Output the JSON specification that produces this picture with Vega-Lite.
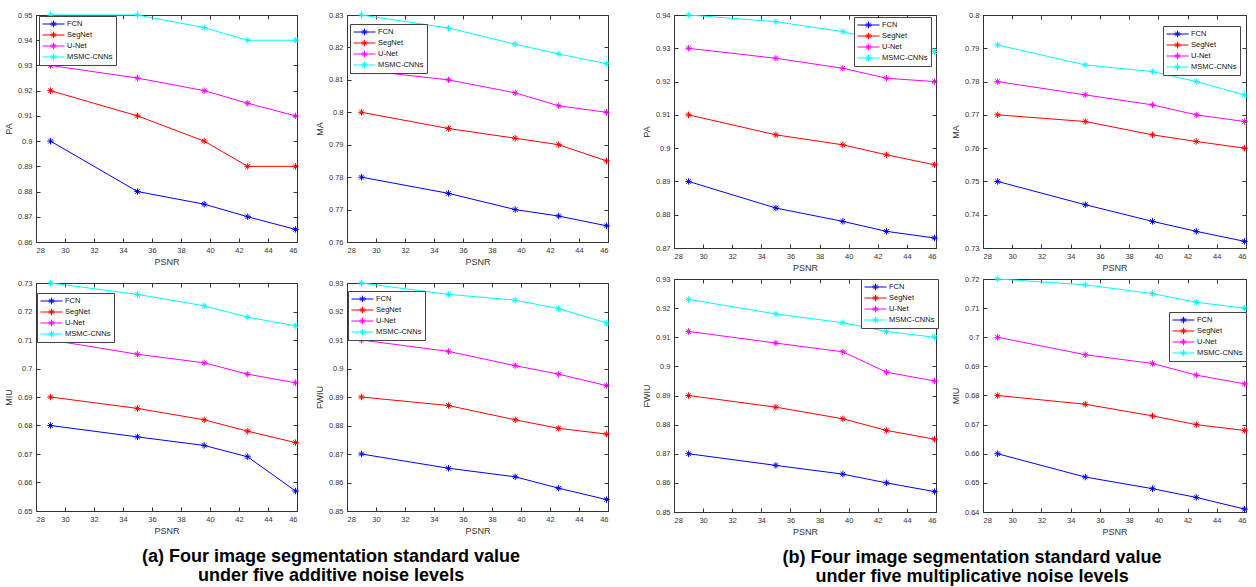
{
"$schema": "https://vega.github.io/schema/vega-lite/v6.json",
"padding": {"left": 3, "top": 9, "right": 4, "bottom": 0},
"datasets": {"d": [
{"noise":"a","metric":"PA","method":"FCN","psnr":29,"value":0.90},{"noise":"a","metric":"PA","method":"FCN","psnr":35,"value":0.88},{"noise":"a","metric":"PA","method":"FCN","psnr":39.6,"value":0.875},{"noise":"a","metric":"PA","method":"FCN","psnr":42.6,"value":0.87},{"noise":"a","metric":"PA","method":"FCN","psnr":45.9,"value":0.865},
{"noise":"a","metric":"PA","method":"SegNet","psnr":29,"value":0.92},{"noise":"a","metric":"PA","method":"SegNet","psnr":35,"value":0.91},{"noise":"a","metric":"PA","method":"SegNet","psnr":39.6,"value":0.90},{"noise":"a","metric":"PA","method":"SegNet","psnr":42.6,"value":0.89},{"noise":"a","metric":"PA","method":"SegNet","psnr":45.9,"value":0.89},
{"noise":"a","metric":"PA","method":"U-Net","psnr":29,"value":0.93},{"noise":"a","metric":"PA","method":"U-Net","psnr":35,"value":0.925},{"noise":"a","metric":"PA","method":"U-Net","psnr":39.6,"value":0.92},{"noise":"a","metric":"PA","method":"U-Net","psnr":42.6,"value":0.915},{"noise":"a","metric":"PA","method":"U-Net","psnr":45.9,"value":0.91},
{"noise":"a","metric":"PA","method":"MSMC-CNNs","psnr":29,"value":0.95},{"noise":"a","metric":"PA","method":"MSMC-CNNs","psnr":35,"value":0.95},{"noise":"a","metric":"PA","method":"MSMC-CNNs","psnr":39.6,"value":0.945},{"noise":"a","metric":"PA","method":"MSMC-CNNs","psnr":42.6,"value":0.94},{"noise":"a","metric":"PA","method":"MSMC-CNNs","psnr":45.9,"value":0.94},
{"noise":"a","metric":"MA","method":"FCN","psnr":29,"value":0.78},{"noise":"a","metric":"MA","method":"FCN","psnr":35,"value":0.775},{"noise":"a","metric":"MA","method":"FCN","psnr":39.6,"value":0.77},{"noise":"a","metric":"MA","method":"FCN","psnr":42.6,"value":0.768},{"noise":"a","metric":"MA","method":"FCN","psnr":45.9,"value":0.765},
{"noise":"a","metric":"MA","method":"SegNet","psnr":29,"value":0.80},{"noise":"a","metric":"MA","method":"SegNet","psnr":35,"value":0.795},{"noise":"a","metric":"MA","method":"SegNet","psnr":39.6,"value":0.792},{"noise":"a","metric":"MA","method":"SegNet","psnr":42.6,"value":0.79},{"noise":"a","metric":"MA","method":"SegNet","psnr":45.9,"value":0.785},
{"noise":"a","metric":"MA","method":"U-Net","psnr":29,"value":0.813},{"noise":"a","metric":"MA","method":"U-Net","psnr":35,"value":0.81},{"noise":"a","metric":"MA","method":"U-Net","psnr":39.6,"value":0.806},{"noise":"a","metric":"MA","method":"U-Net","psnr":42.6,"value":0.802},{"noise":"a","metric":"MA","method":"U-Net","psnr":45.9,"value":0.80},
{"noise":"a","metric":"MA","method":"MSMC-CNNs","psnr":29,"value":0.83},{"noise":"a","metric":"MA","method":"MSMC-CNNs","psnr":35,"value":0.826},{"noise":"a","metric":"MA","method":"MSMC-CNNs","psnr":39.6,"value":0.821},{"noise":"a","metric":"MA","method":"MSMC-CNNs","psnr":42.6,"value":0.818},{"noise":"a","metric":"MA","method":"MSMC-CNNs","psnr":45.9,"value":0.815},
{"noise":"a","metric":"MIU","method":"FCN","psnr":29,"value":0.68},{"noise":"a","metric":"MIU","method":"FCN","psnr":35,"value":0.676},{"noise":"a","metric":"MIU","method":"FCN","psnr":39.6,"value":0.673},{"noise":"a","metric":"MIU","method":"FCN","psnr":42.6,"value":0.669},{"noise":"a","metric":"MIU","method":"FCN","psnr":45.9,"value":0.657},
{"noise":"a","metric":"MIU","method":"SegNet","psnr":29,"value":0.69},{"noise":"a","metric":"MIU","method":"SegNet","psnr":35,"value":0.686},{"noise":"a","metric":"MIU","method":"SegNet","psnr":39.6,"value":0.682},{"noise":"a","metric":"MIU","method":"SegNet","psnr":42.6,"value":0.678},{"noise":"a","metric":"MIU","method":"SegNet","psnr":45.9,"value":0.674},
{"noise":"a","metric":"MIU","method":"U-Net","psnr":29,"value":0.71},{"noise":"a","metric":"MIU","method":"U-Net","psnr":35,"value":0.705},{"noise":"a","metric":"MIU","method":"U-Net","psnr":39.6,"value":0.702},{"noise":"a","metric":"MIU","method":"U-Net","psnr":42.6,"value":0.698},{"noise":"a","metric":"MIU","method":"U-Net","psnr":45.9,"value":0.695},
{"noise":"a","metric":"MIU","method":"MSMC-CNNs","psnr":29,"value":0.73},{"noise":"a","metric":"MIU","method":"MSMC-CNNs","psnr":35,"value":0.726},{"noise":"a","metric":"MIU","method":"MSMC-CNNs","psnr":39.6,"value":0.722},{"noise":"a","metric":"MIU","method":"MSMC-CNNs","psnr":42.6,"value":0.718},{"noise":"a","metric":"MIU","method":"MSMC-CNNs","psnr":45.9,"value":0.715},
{"noise":"a","metric":"FWIU","method":"FCN","psnr":29,"value":0.87},{"noise":"a","metric":"FWIU","method":"FCN","psnr":35,"value":0.865},{"noise":"a","metric":"FWIU","method":"FCN","psnr":39.6,"value":0.862},{"noise":"a","metric":"FWIU","method":"FCN","psnr":42.6,"value":0.858},{"noise":"a","metric":"FWIU","method":"FCN","psnr":45.9,"value":0.854},
{"noise":"a","metric":"FWIU","method":"SegNet","psnr":29,"value":0.89},{"noise":"a","metric":"FWIU","method":"SegNet","psnr":35,"value":0.887},{"noise":"a","metric":"FWIU","method":"SegNet","psnr":39.6,"value":0.882},{"noise":"a","metric":"FWIU","method":"SegNet","psnr":42.6,"value":0.879},{"noise":"a","metric":"FWIU","method":"SegNet","psnr":45.9,"value":0.877},
{"noise":"a","metric":"FWIU","method":"U-Net","psnr":29,"value":0.91},{"noise":"a","metric":"FWIU","method":"U-Net","psnr":35,"value":0.906},{"noise":"a","metric":"FWIU","method":"U-Net","psnr":39.6,"value":0.901},{"noise":"a","metric":"FWIU","method":"U-Net","psnr":42.6,"value":0.898},{"noise":"a","metric":"FWIU","method":"U-Net","psnr":45.9,"value":0.894},
{"noise":"a","metric":"FWIU","method":"MSMC-CNNs","psnr":29,"value":0.93},{"noise":"a","metric":"FWIU","method":"MSMC-CNNs","psnr":35,"value":0.926},{"noise":"a","metric":"FWIU","method":"MSMC-CNNs","psnr":39.6,"value":0.924},{"noise":"a","metric":"FWIU","method":"MSMC-CNNs","psnr":42.6,"value":0.921},{"noise":"a","metric":"FWIU","method":"MSMC-CNNs","psnr":45.9,"value":0.916},
{"noise":"m","metric":"PA","method":"FCN","psnr":29,"value":0.89},{"noise":"m","metric":"PA","method":"FCN","psnr":35,"value":0.882},{"noise":"m","metric":"PA","method":"FCN","psnr":39.6,"value":0.878},{"noise":"m","metric":"PA","method":"FCN","psnr":42.6,"value":0.875},{"noise":"m","metric":"PA","method":"FCN","psnr":45.9,"value":0.873},
{"noise":"m","metric":"PA","method":"SegNet","psnr":29,"value":0.91},{"noise":"m","metric":"PA","method":"SegNet","psnr":35,"value":0.904},{"noise":"m","metric":"PA","method":"SegNet","psnr":39.6,"value":0.901},{"noise":"m","metric":"PA","method":"SegNet","psnr":42.6,"value":0.898},{"noise":"m","metric":"PA","method":"SegNet","psnr":45.9,"value":0.895},
{"noise":"m","metric":"PA","method":"U-Net","psnr":29,"value":0.93},{"noise":"m","metric":"PA","method":"U-Net","psnr":35,"value":0.927},{"noise":"m","metric":"PA","method":"U-Net","psnr":39.6,"value":0.924},{"noise":"m","metric":"PA","method":"U-Net","psnr":42.6,"value":0.921},{"noise":"m","metric":"PA","method":"U-Net","psnr":45.9,"value":0.92},
{"noise":"m","metric":"PA","method":"MSMC-CNNs","psnr":29,"value":0.94},{"noise":"m","metric":"PA","method":"MSMC-CNNs","psnr":35,"value":0.938},{"noise":"m","metric":"PA","method":"MSMC-CNNs","psnr":39.6,"value":0.935},{"noise":"m","metric":"PA","method":"MSMC-CNNs","psnr":42.6,"value":0.932},{"noise":"m","metric":"PA","method":"MSMC-CNNs","psnr":45.9,"value":0.929},
{"noise":"m","metric":"MA","method":"FCN","psnr":29,"value":0.75},{"noise":"m","metric":"MA","method":"FCN","psnr":35,"value":0.743},{"noise":"m","metric":"MA","method":"FCN","psnr":39.6,"value":0.738},{"noise":"m","metric":"MA","method":"FCN","psnr":42.6,"value":0.735},{"noise":"m","metric":"MA","method":"FCN","psnr":45.9,"value":0.732},
{"noise":"m","metric":"MA","method":"SegNet","psnr":29,"value":0.77},{"noise":"m","metric":"MA","method":"SegNet","psnr":35,"value":0.768},{"noise":"m","metric":"MA","method":"SegNet","psnr":39.6,"value":0.764},{"noise":"m","metric":"MA","method":"SegNet","psnr":42.6,"value":0.762},{"noise":"m","metric":"MA","method":"SegNet","psnr":45.9,"value":0.76},
{"noise":"m","metric":"MA","method":"U-Net","psnr":29,"value":0.78},{"noise":"m","metric":"MA","method":"U-Net","psnr":35,"value":0.776},{"noise":"m","metric":"MA","method":"U-Net","psnr":39.6,"value":0.773},{"noise":"m","metric":"MA","method":"U-Net","psnr":42.6,"value":0.77},{"noise":"m","metric":"MA","method":"U-Net","psnr":45.9,"value":0.768},
{"noise":"m","metric":"MA","method":"MSMC-CNNs","psnr":29,"value":0.791},{"noise":"m","metric":"MA","method":"MSMC-CNNs","psnr":35,"value":0.785},{"noise":"m","metric":"MA","method":"MSMC-CNNs","psnr":39.6,"value":0.783},{"noise":"m","metric":"MA","method":"MSMC-CNNs","psnr":42.6,"value":0.78},{"noise":"m","metric":"MA","method":"MSMC-CNNs","psnr":45.9,"value":0.776},
{"noise":"m","metric":"FWIU","method":"FCN","psnr":29,"value":0.87},{"noise":"m","metric":"FWIU","method":"FCN","psnr":35,"value":0.866},{"noise":"m","metric":"FWIU","method":"FCN","psnr":39.6,"value":0.863},{"noise":"m","metric":"FWIU","method":"FCN","psnr":42.6,"value":0.86},{"noise":"m","metric":"FWIU","method":"FCN","psnr":45.9,"value":0.857},
{"noise":"m","metric":"FWIU","method":"SegNet","psnr":29,"value":0.89},{"noise":"m","metric":"FWIU","method":"SegNet","psnr":35,"value":0.886},{"noise":"m","metric":"FWIU","method":"SegNet","psnr":39.6,"value":0.882},{"noise":"m","metric":"FWIU","method":"SegNet","psnr":42.6,"value":0.878},{"noise":"m","metric":"FWIU","method":"SegNet","psnr":45.9,"value":0.875},
{"noise":"m","metric":"FWIU","method":"U-Net","psnr":29,"value":0.912},{"noise":"m","metric":"FWIU","method":"U-Net","psnr":35,"value":0.908},{"noise":"m","metric":"FWIU","method":"U-Net","psnr":39.6,"value":0.905},{"noise":"m","metric":"FWIU","method":"U-Net","psnr":42.6,"value":0.898},{"noise":"m","metric":"FWIU","method":"U-Net","psnr":45.9,"value":0.895},
{"noise":"m","metric":"FWIU","method":"MSMC-CNNs","psnr":29,"value":0.923},{"noise":"m","metric":"FWIU","method":"MSMC-CNNs","psnr":35,"value":0.918},{"noise":"m","metric":"FWIU","method":"MSMC-CNNs","psnr":39.6,"value":0.915},{"noise":"m","metric":"FWIU","method":"MSMC-CNNs","psnr":42.6,"value":0.912},{"noise":"m","metric":"FWIU","method":"MSMC-CNNs","psnr":45.9,"value":0.91},
{"noise":"m","metric":"MIU","method":"FCN","psnr":29,"value":0.66},{"noise":"m","metric":"MIU","method":"FCN","psnr":35,"value":0.652},{"noise":"m","metric":"MIU","method":"FCN","psnr":39.6,"value":0.648},{"noise":"m","metric":"MIU","method":"FCN","psnr":42.6,"value":0.645},{"noise":"m","metric":"MIU","method":"FCN","psnr":45.9,"value":0.641},
{"noise":"m","metric":"MIU","method":"SegNet","psnr":29,"value":0.68},{"noise":"m","metric":"MIU","method":"SegNet","psnr":35,"value":0.677},{"noise":"m","metric":"MIU","method":"SegNet","psnr":39.6,"value":0.673},{"noise":"m","metric":"MIU","method":"SegNet","psnr":42.6,"value":0.67},{"noise":"m","metric":"MIU","method":"SegNet","psnr":45.9,"value":0.668},
{"noise":"m","metric":"MIU","method":"U-Net","psnr":29,"value":0.70},{"noise":"m","metric":"MIU","method":"U-Net","psnr":35,"value":0.694},{"noise":"m","metric":"MIU","method":"U-Net","psnr":39.6,"value":0.691},{"noise":"m","metric":"MIU","method":"U-Net","psnr":42.6,"value":0.687},{"noise":"m","metric":"MIU","method":"U-Net","psnr":45.9,"value":0.684},
{"noise":"m","metric":"MIU","method":"MSMC-CNNs","psnr":29,"value":0.72},{"noise":"m","metric":"MIU","method":"MSMC-CNNs","psnr":35,"value":0.718},{"noise":"m","metric":"MIU","method":"MSMC-CNNs","psnr":39.6,"value":0.715},{"noise":"m","metric":"MIU","method":"MSMC-CNNs","psnr":42.6,"value":0.712},{"noise":"m","metric":"MIU","method":"MSMC-CNNs","psnr":45.9,"value":0.71}
]},
"data": {"name": "d"},
"spacing": 28,
"resolve": {"scale": {"x": "independent", "y": "independent"}, "legend": {"color": "independent"}},
"hconcat": [
{
"spacing": 10,
"resolve": {"scale": {"x": "independent", "y": "independent"}, "legend": {"color": "independent"}},
"title": {"text": ["(a) Four image segmentation standard value", "under five additive noise levels"], "orient": "bottom", "anchor": "middle", "dx": 23, "offset": 12},
"vconcat": [
{"spacing": 12,
 "resolve": {"scale": {"x": "independent", "y": "independent"}, "legend": {"color": "independent"}},
 "hconcat": [
  {"width": 261, "height": 227,
   "transform": [{"filter": "datum.noise == 'a' && datum.metric == 'PA'"}],
   "encoding": {"color": {"field": "method", "type": "nominal", "scale": {"domain": ["FCN","SegNet","U-Net","MSMC-CNNs"], "range": ["#0000ff","#ff0000","#ff00ff","#00ffff"]}, "legend": {"title": null, "legendX": 3, "legendY": 1}}},
   "resolve": {"axis": {"x": "independent", "y": "independent"}},
   "layer": [
    {"mark": {"type": "line", "strokeWidth": 1},
     "encoding": {"x": {"field": "psnr", "type": "quantitative", "scale": {"domain": [28,46], "nice": false, "zero": false}, "axis": {"values": [28,30,32,34,36,38,40,42,44,46], "title": "PSNR"}},
                  "y": {"field": "value", "type": "quantitative", "scale": {"domain": [0.86,0.95], "nice": false, "zero": false}, "axis": {"values": [0.86,0.87,0.88,0.89,0.9,0.91,0.92,0.93,0.94,0.95], "format": "~g", "title": "PA"}}}},
    {"mark": {"type": "point", "shape": "M-1,0L1,0M0,-1L0,1M-0.7,-0.7L0.7,0.7M-0.7,0.7L0.7,-0.7", "filled": false, "size": 42, "strokeWidth": 1, "opacity": 1},
     "encoding": {"x": {"field": "psnr", "type": "quantitative", "scale": {"domain": [28,46], "nice": false, "zero": false}, "axis": {"orient": "top", "values": [28,30,32,34,36,38,40,42,44,46], "labels": false, "title": null}},
                  "y": {"field": "value", "type": "quantitative", "scale": {"domain": [0.86,0.95], "nice": false, "zero": false}, "axis": {"orient": "right", "values": [0.86,0.87,0.88,0.89,0.9,0.91,0.92,0.93,0.94,0.95], "labels": false, "title": null}}}}
   ]},
  {"width": 261, "height": 227,
   "transform": [{"filter": "datum.noise == 'a' && datum.metric == 'MA'"}],
   "encoding": {"color": {"field": "method", "type": "nominal", "scale": {"domain": ["FCN","SegNet","U-Net","MSMC-CNNs"], "range": ["#0000ff","#ff0000","#ff00ff","#00ffff"]}, "legend": {"title": null, "legendX": 3, "legendY": 9}}},
   "resolve": {"axis": {"x": "independent", "y": "independent"}},
   "layer": [
    {"mark": {"type": "line", "strokeWidth": 1},
     "encoding": {"x": {"field": "psnr", "type": "quantitative", "scale": {"domain": [28,46], "nice": false, "zero": false}, "axis": {"values": [28,30,32,34,36,38,40,42,44,46], "title": "PSNR"}},
                  "y": {"field": "value", "type": "quantitative", "scale": {"domain": [0.76,0.83], "nice": false, "zero": false}, "axis": {"values": [0.76,0.77,0.78,0.79,0.8,0.81,0.82,0.83], "format": "~g", "title": "MA"}}}},
    {"mark": {"type": "point", "shape": "M-1,0L1,0M0,-1L0,1M-0.7,-0.7L0.7,0.7M-0.7,0.7L0.7,-0.7", "filled": false, "size": 42, "strokeWidth": 1, "opacity": 1},
     "encoding": {"x": {"field": "psnr", "type": "quantitative", "scale": {"domain": [28,46], "nice": false, "zero": false}, "axis": {"orient": "top", "values": [28,30,32,34,36,38,40,42,44,46], "labels": false, "title": null}},
                  "y": {"field": "value", "type": "quantitative", "scale": {"domain": [0.76,0.83], "nice": false, "zero": false}, "axis": {"orient": "right", "values": [0.76,0.77,0.78,0.79,0.8,0.81,0.82,0.83], "labels": false, "title": null}}}}
   ]}
 ]},
{"spacing": 12,
 "resolve": {"scale": {"x": "independent", "y": "independent"}, "legend": {"color": "independent"}},
 "hconcat": [
  {"width": 261, "height": 228,
   "transform": [{"filter": "datum.noise == 'a' && datum.metric == 'MIU'"}],
   "encoding": {"color": {"field": "method", "type": "nominal", "scale": {"domain": ["FCN","SegNet","U-Net","MSMC-CNNs"], "range": ["#0000ff","#ff0000","#ff00ff","#00ffff"]}, "legend": {"title": null, "legendX": 1, "legendY": 10}}},
   "resolve": {"axis": {"x": "independent", "y": "independent"}},
   "layer": [
    {"mark": {"type": "line", "strokeWidth": 1},
     "encoding": {"x": {"field": "psnr", "type": "quantitative", "scale": {"domain": [28,46], "nice": false, "zero": false}, "axis": {"values": [28,30,32,34,36,38,40,42,44,46], "title": "PSNR"}},
                  "y": {"field": "value", "type": "quantitative", "scale": {"domain": [0.65,0.73], "nice": false, "zero": false}, "axis": {"values": [0.65,0.66,0.67,0.68,0.69,0.7,0.71,0.72,0.73], "format": "~g", "title": "MIU"}}}},
    {"mark": {"type": "point", "shape": "M-1,0L1,0M0,-1L0,1M-0.7,-0.7L0.7,0.7M-0.7,0.7L0.7,-0.7", "filled": false, "size": 42, "strokeWidth": 1, "opacity": 1},
     "encoding": {"x": {"field": "psnr", "type": "quantitative", "scale": {"domain": [28,46], "nice": false, "zero": false}, "axis": {"orient": "top", "values": [28,30,32,34,36,38,40,42,44,46], "labels": false, "title": null}},
                  "y": {"field": "value", "type": "quantitative", "scale": {"domain": [0.65,0.73], "nice": false, "zero": false}, "axis": {"orient": "right", "values": [0.65,0.66,0.67,0.68,0.69,0.7,0.71,0.72,0.73], "labels": false, "title": null}}}}
   ]},
  {"width": 261, "height": 228,
   "transform": [{"filter": "datum.noise == 'a' && datum.metric == 'FWIU'"}],
   "encoding": {"color": {"field": "method", "type": "nominal", "scale": {"domain": ["FCN","SegNet","U-Net","MSMC-CNNs"], "range": ["#0000ff","#ff0000","#ff00ff","#00ffff"]}, "legend": {"title": null, "legendX": 1, "legendY": 8}}},
   "resolve": {"axis": {"x": "independent", "y": "independent"}},
   "layer": [
    {"mark": {"type": "line", "strokeWidth": 1},
     "encoding": {"x": {"field": "psnr", "type": "quantitative", "scale": {"domain": [28,46], "nice": false, "zero": false}, "axis": {"values": [28,30,32,34,36,38,40,42,44,46], "title": "PSNR"}},
                  "y": {"field": "value", "type": "quantitative", "scale": {"domain": [0.85,0.93], "nice": false, "zero": false}, "axis": {"values": [0.85,0.86,0.87,0.88,0.89,0.9,0.91,0.92,0.93], "format": "~g", "title": "FWIU"}}}},
    {"mark": {"type": "point", "shape": "M-1,0L1,0M0,-1L0,1M-0.7,-0.7L0.7,0.7M-0.7,0.7L0.7,-0.7", "filled": false, "size": 42, "strokeWidth": 1, "opacity": 1},
     "encoding": {"x": {"field": "psnr", "type": "quantitative", "scale": {"domain": [28,46], "nice": false, "zero": false}, "axis": {"orient": "top", "values": [28,30,32,34,36,38,40,42,44,46], "labels": false, "title": null}},
                  "y": {"field": "value", "type": "quantitative", "scale": {"domain": [0.85,0.93], "nice": false, "zero": false}, "axis": {"orient": "right", "values": [0.85,0.86,0.87,0.88,0.89,0.9,0.91,0.92,0.93], "labels": false, "title": null}}}}
   ]}
 ]}
]
},
{
"spacing": 0,
"resolve": {"scale": {"x": "independent", "y": "independent"}, "legend": {"color": "independent"}},
"title": {"text": ["(b) Four image segmentation standard value", "under five multiplicative noise levels"], "orient": "bottom", "anchor": "middle", "dx": 26, "offset": 12},
"vconcat": [
{"spacing": 9,
 "resolve": {"scale": {"x": "independent", "y": "independent"}, "legend": {"color": "independent"}},
 "hconcat": [
  {"width": 262, "height": 233,
   "transform": [{"filter": "datum.noise == 'm' && datum.metric == 'PA'"}],
   "encoding": {"color": {"field": "method", "type": "nominal", "scale": {"domain": ["FCN","SegNet","U-Net","MSMC-CNNs"], "range": ["#0000ff","#ff0000","#ff00ff","#00ffff"]}, "legend": {"title": null, "legendX": 180, "legendY": 2}}},
   "resolve": {"axis": {"x": "independent", "y": "independent"}},
   "layer": [
    {"mark": {"type": "line", "strokeWidth": 1},
     "encoding": {"x": {"field": "psnr", "type": "quantitative", "scale": {"domain": [28,46], "nice": false, "zero": false}, "axis": {"values": [28,30,32,34,36,38,40,42,44,46], "title": "PSNR"}},
                  "y": {"field": "value", "type": "quantitative", "scale": {"domain": [0.87,0.94], "nice": false, "zero": false}, "axis": {"values": [0.87,0.88,0.89,0.9,0.91,0.92,0.93,0.94], "format": "~g", "title": "PA"}}}},
    {"mark": {"type": "point", "shape": "M-1,0L1,0M0,-1L0,1M-0.7,-0.7L0.7,0.7M-0.7,0.7L0.7,-0.7", "filled": false, "size": 42, "strokeWidth": 1, "opacity": 1},
     "encoding": {"x": {"field": "psnr", "type": "quantitative", "scale": {"domain": [28,46], "nice": false, "zero": false}, "axis": {"orient": "top", "values": [28,30,32,34,36,38,40,42,44,46], "labels": false, "title": null}},
                  "y": {"field": "value", "type": "quantitative", "scale": {"domain": [0.87,0.94], "nice": false, "zero": false}, "axis": {"orient": "right", "values": [0.87,0.88,0.89,0.9,0.91,0.92,0.93,0.94], "labels": false, "title": null}}}}
   ]},
  {"width": 263, "height": 233,
   "transform": [{"filter": "datum.noise == 'm' && datum.metric == 'MA'"}],
   "encoding": {"color": {"field": "method", "type": "nominal", "scale": {"domain": ["FCN","SegNet","U-Net","MSMC-CNNs"], "range": ["#0000ff","#ff0000","#ff00ff","#00ffff"]}, "legend": {"title": null, "legendX": 180, "legendY": 11}}},
   "resolve": {"axis": {"x": "independent", "y": "independent"}},
   "layer": [
    {"mark": {"type": "line", "strokeWidth": 1},
     "encoding": {"x": {"field": "psnr", "type": "quantitative", "scale": {"domain": [28,46], "nice": false, "zero": false}, "axis": {"values": [28,30,32,34,36,38,40,42,44,46], "title": "PSNR"}},
                  "y": {"field": "value", "type": "quantitative", "scale": {"domain": [0.73,0.8], "nice": false, "zero": false}, "axis": {"values": [0.73,0.74,0.75,0.76,0.77,0.78,0.79,0.8], "format": "~g", "title": "MA"}}}},
    {"mark": {"type": "point", "shape": "M-1,0L1,0M0,-1L0,1M-0.7,-0.7L0.7,0.7M-0.7,0.7L0.7,-0.7", "filled": false, "size": 42, "strokeWidth": 1, "opacity": 1},
     "encoding": {"x": {"field": "psnr", "type": "quantitative", "scale": {"domain": [28,46], "nice": false, "zero": false}, "axis": {"orient": "top", "values": [28,30,32,34,36,38,40,42,44,46], "labels": false, "title": null}},
                  "y": {"field": "value", "type": "quantitative", "scale": {"domain": [0.73,0.8], "nice": false, "zero": false}, "axis": {"orient": "right", "values": [0.73,0.74,0.75,0.76,0.77,0.78,0.79,0.8], "labels": false, "title": null}}}}
   ]}
 ]},
{"spacing": 9,
 "resolve": {"scale": {"x": "independent", "y": "independent"}, "legend": {"color": "independent"}},
 "hconcat": [
  {"width": 262, "height": 233,
   "transform": [{"filter": "datum.noise == 'm' && datum.metric == 'FWIU'"}],
   "encoding": {"color": {"field": "method", "type": "nominal", "scale": {"domain": ["FCN","SegNet","U-Net","MSMC-CNNs"], "range": ["#0000ff","#ff0000","#ff00ff","#00ffff"]}, "legend": {"title": null, "legendX": 187, "legendY": 0}}},
   "resolve": {"axis": {"x": "independent", "y": "independent"}},
   "layer": [
    {"mark": {"type": "line", "strokeWidth": 1},
     "encoding": {"x": {"field": "psnr", "type": "quantitative", "scale": {"domain": [28,46], "nice": false, "zero": false}, "axis": {"values": [28,30,32,34,36,38,40,42,44,46], "title": "PSNR"}},
                  "y": {"field": "value", "type": "quantitative", "scale": {"domain": [0.85,0.93], "nice": false, "zero": false}, "axis": {"values": [0.85,0.86,0.87,0.88,0.89,0.9,0.91,0.92,0.93], "format": "~g", "title": "FWIU"}}}},
    {"mark": {"type": "point", "shape": "M-1,0L1,0M0,-1L0,1M-0.7,-0.7L0.7,0.7M-0.7,0.7L0.7,-0.7", "filled": false, "size": 42, "strokeWidth": 1, "opacity": 1},
     "encoding": {"x": {"field": "psnr", "type": "quantitative", "scale": {"domain": [28,46], "nice": false, "zero": false}, "axis": {"orient": "top", "values": [28,30,32,34,36,38,40,42,44,46], "labels": false, "title": null}},
                  "y": {"field": "value", "type": "quantitative", "scale": {"domain": [0.85,0.93], "nice": false, "zero": false}, "axis": {"orient": "right", "values": [0.85,0.86,0.87,0.88,0.89,0.9,0.91,0.92,0.93], "labels": false, "title": null}}}}
   ]},
  {"width": 263, "height": 233,
   "transform": [{"filter": "datum.noise == 'm' && datum.metric == 'MIU'"}],
   "encoding": {"color": {"field": "method", "type": "nominal", "scale": {"domain": ["FCN","SegNet","U-Net","MSMC-CNNs"], "range": ["#0000ff","#ff0000","#ff00ff","#00ffff"]}, "legend": {"title": null, "legendX": 186, "legendY": 33}}},
   "resolve": {"axis": {"x": "independent", "y": "independent"}},
   "layer": [
    {"mark": {"type": "line", "strokeWidth": 1},
     "encoding": {"x": {"field": "psnr", "type": "quantitative", "scale": {"domain": [28,46], "nice": false, "zero": false}, "axis": {"values": [28,30,32,34,36,38,40,42,44,46], "title": "PSNR"}},
                  "y": {"field": "value", "type": "quantitative", "scale": {"domain": [0.64,0.72], "nice": false, "zero": false}, "axis": {"values": [0.64,0.65,0.66,0.67,0.68,0.69,0.7,0.71,0.72], "format": "~g", "title": "MIU"}}}},
    {"mark": {"type": "point", "shape": "M-1,0L1,0M0,-1L0,1M-0.7,-0.7L0.7,0.7M-0.7,0.7L0.7,-0.7", "filled": false, "size": 42, "strokeWidth": 1, "opacity": 1},
     "encoding": {"x": {"field": "psnr", "type": "quantitative", "scale": {"domain": [28,46], "nice": false, "zero": false}, "axis": {"orient": "top", "values": [28,30,32,34,36,38,40,42,44,46], "labels": false, "title": null}},
                  "y": {"field": "value", "type": "quantitative", "scale": {"domain": [0.64,0.72], "nice": false, "zero": false}, "axis": {"orient": "right", "values": [0.64,0.65,0.66,0.67,0.68,0.69,0.7,0.71,0.72], "labels": false, "title": null}}}}
   ]}
 ]}
]
}
],
"config": {
 "font": "Liberation Sans",
 "background": "white",
 "view": {"stroke": "#333333", "strokeWidth": 1},
 "axis": {"domain": false, "grid": false, "tickSize": -4, "tickColor": "#333333", "tickWidth": 1, "labelFontSize": 7.5, "labelColor": "#333333", "labelPadding": 8, "titleFontSize": 9, "titleFontWeight": "normal", "titleColor": "#333333", "titlePadding": 4},
 "legend": {"orient": "none", "symbolType": "M-1,0L1,0M-0.3,0L0.3,0M0,-0.3L0,0.3M-0.21,-0.21L0.21,0.21M-0.21,0.21L0.21,-0.21", "symbolSize": 484, "symbolStrokeWidth": 1, "clipHeight": 10, "labelFontSize": 7.5, "labelColor": "#111111", "fillColor": "white", "strokeColor": "#444444", "padding": 3, "rowPadding": 1, "labelOffset": 2, "symbolOffset": 0},
 "title": {"fontSize": 18, "fontWeight": "bold", "color": "black", "lineHeight": 19, "font": "Liberation Sans"}
}
}
